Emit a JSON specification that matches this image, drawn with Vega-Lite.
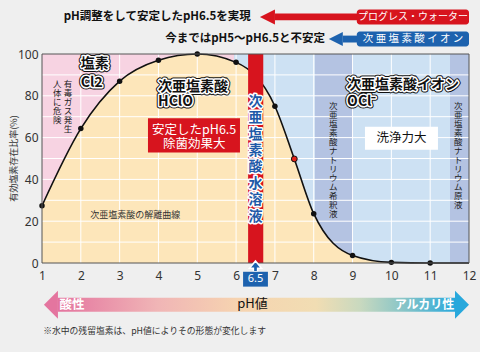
{
  "$schema": "https://vega.github.io/schema/vega-lite/v6.json",
  "width": 427,
  "height": 209,
  "autosize": {"type": "none"},
  "padding": {"left": 42, "top": 54, "right": 11, "bottom": 89},
  "background": "#efefef",
  "config": {
    "view": {"stroke": null, "fill": "#fde6ba"},
    "font": "Noto Sans CJK JP",
    "text": {"font": "Noto Sans CJK JP"}
  },
  "datasets": {
    "curve": [
      {"x": 1, "y": 27.4}, {"x": 2, "y": 64.3}, {"x": 3, "y": 87}, {"x": 4, "y": 97},
      {"x": 5, "y": 100}, {"x": 6, "y": 96}, {"x": 7, "y": 75}, {"x": 7.5, "y": 49.8},
      {"x": 8, "y": 23.6}, {"x": 9, "y": 3.6}, {"x": 10, "y": 0.3}, {"x": 11, "y": 0}, {"x": 12, "y": 0}
    ],
    "gx": [
      {"x": 2, "y": 0, "y2": 100}, {"x": 3, "y": 0, "y2": 100}, {"x": 4, "y": 0, "y2": 100},
      {"x": 5, "y": 0, "y2": 100}, {"x": 6, "y": 0, "y2": 100}, {"x": 7, "y": 0, "y2": 100},
      {"x": 8, "y": 0, "y2": 100}, {"x": 9, "y": 0, "y2": 100}, {"x": 10, "y": 0, "y2": 100},
      {"x": 11, "y": 0, "y2": 100}
    ],
    "gy": [
      {"y": 10, "x": 1, "x2": 12}, {"y": 20, "x": 1, "x2": 12}, {"y": 30, "x": 1, "x2": 12},
      {"y": 40, "x": 1, "x2": 12}, {"y": 50, "x": 1, "x2": 12}, {"y": 60, "x": 1, "x2": 12},
      {"y": 70, "x": 1, "x2": 12}, {"y": 80, "x": 1, "x2": 12}, {"y": 90, "x": 1, "x2": 12}
    ],
    "frame": [{"x": 1, "x2": 12, "y": 0, "y2": 100}],
    "bold": [
      {"x": 2.0, "y": 95.0, "t": "塩素"},
      {"x": 2.0, "y": 86.3, "t": "Cl2"},
      {"x": 3.99, "y": 84.4, "t": "次亜塩素酸"},
      {"x": 3.99, "y": 77.2, "t": "HClO"},
      {"x": 8.86, "y": 85.3, "t": "次亜塩素酸イオン"},
      {"x": 8.86, "y": 77.2, "t": "OCl⁻"}
    ],
    "vsmall": [
      {"x": 1.67, "y": 87.7, "t": "有\n毒\nガ\nス\n発\n生"},
      {"x": 1.39, "y": 87.7, "t": "人\n体\nに\n危\n険"},
      {"x": 8.5, "y": 76.8, "t": "次\n亜\n塩\n素\n酸\nナ\nト\nリ\nウ\nム\n希\n釈\n液"},
      {"x": 11.72, "y": 76.8, "t": "次\n亜\n塩\n素\n酸\nナ\nト\nリ\nウ\nム\n原\n液"}
    ],
    "vblue": [{"x": 6.5, "y": 80.5, "t": "次\n亜\n塩\n素\n酸\n水\n溶\n液"}],
    "redband": [{"x": 6.31, "x2": 6.7, "y": 0, "y2": 100}],
    "redbox": [{"x": 3.73, "x2": 6.1, "y": 69.2, "y2": 52.9}],
    "redboxtext": [{"x": 4.92, "y": 63.4, "t": "安定したpH6.5"}, {"x": 4.92, "y": 57.1, "t": "除菌効果大"}],
    "whitebox": [{"x": 9.32, "x2": 11.2, "y": 65.2, "y2": 54.2}],
    "whiteboxtext": [{"x": 10.26, "y": 59.7, "t": "洗浄力大"}],
    "caption": [{"x": 2.24, "y": 23.1, "t": "次亜塩素酸の解離曲線"}],
    "toptext": [
      {"x": 6.38, "y": 117.9, "t": "pH調整をして安定したpH6.5を実現"},
      {"x": 8.29, "y": 107.3, "t": "今まではpH5〜pH6.5と不安定"}
    ],
    "redshaft": [{"x": 7.0, "x2": 9.2, "y": 119.4, "y2": 116.1}],
    "redhead": [{"x": 7.0, "y": 117.7}],
    "redtop": [{"x": 9.11, "x2": 12.0, "y": 121.3, "y2": 114.1}],
    "redtoptext": [{"x": 10.56, "y": 117.7, "t": "プログレス・ウォーター"}],
    "blueshaft": [{"x": 8.75, "x2": 9.2, "y": 108.8, "y2": 105.5}],
    "bluehead": [{"x": 8.75, "y": 107.2}],
    "bluetop": [{"x": 9.11, "x2": 12.0, "y": 110.8, "y2": 103.6}],
    "bluetoptext": [{"x": 10.56, "y": 107.2, "t": "次 亜 塩 素 酸 イ オ ン"}],
    "mark65": [{"x": 6.5, "y": -2.5}],
    "box65": [{"x": 6.18, "x2": 6.82, "y": -4.2, "y2": -11.3}],
    "text65": [{"x": 6.5, "y": -7.8, "t": "6.5"}],
    "phshaft": [{"x": 1.41, "x2": 11.64, "y": -16.6, "y2": -23.3}],
    "phleft": [{"x": 1.41, "y": -20.0}],
    "phright": [{"x": 11.64, "y": -20.0}],
    "acid": [{"x": 1.45, "y": -20.0, "t": "酸性"}],
    "alk": [{"x": 11.62, "y": -20.0, "t": "アルカリ性"}],
    "phlabel": [{"x": 6.42, "y": -19.8, "t": "pH値"}],
    "note": [{"x": 1.03, "y": -32.4, "t": "※水中の残留塩素は、pH値によりその形態が変化します"}]
  },
  "encoding": {
    "x": {
      "field": "x", "type": "quantitative",
      "scale": {"domain": [1, 12], "nice": false, "zero": false},
      "axis": {
        "values": [1, 2, 3, 4, 5, 6, 7, 8, 9, 10, 11, 12],
        "grid": false, "ticks": false, "domain": false, "title": null,
        "labelFont": "Noto Sans", "labelFontSize": 12, "labelColor": "#333333",
        "labelPadding": 7, "labelFlush": false
      }
    },
    "y": {
      "field": "y", "type": "quantitative",
      "scale": {"domain": [0, 100], "nice": false},
      "axis": {
        "values": [0, 20, 40, 60, 80, 100],
        "grid": false, "ticks": false, "domain": false,
        "labelFont": "Noto Sans", "labelFontSize": 12, "labelColor": "#333333", "labelPadding": 4,
        "title": "有効塩素存在比率(%)", "titleFont": "Noto Sans CJK JP", "titleFontSize": 9,
        "titleFontWeight": "normal", "titleColor": "#333333",
        "titleX": -29, "titleY": 104, "titleAlign": "center", "titleBaseline": "middle", "titleAngle": -90
      }
    }
  },
  "layer": [
    {
      "data": {"name": "curve"},
      "mark": {"type": "area", "interpolate": "monotone", "opacity": 1, "fill": {"gradient": "linear", "x1": 0, "x2": 1, "y1": 0, "y2": 0, "stops": [
        {"offset": 0, "color": "#f7d3e2"},
        {"offset": 0.45, "color": "#f7d3e2"},
        {"offset": 0.45, "color": "#cde1f3"},
        {"offset": 0.639, "color": "#cde1f3"},
        {"offset": 0.639, "color": "#b4c3e2"},
        {"offset": 0.729, "color": "#b4c3e2"},
        {"offset": 0.729, "color": "#cde1f3"},
        {"offset": 0.956, "color": "#cde1f3"},
        {"offset": 0.956, "color": "#b4c3e2"},
        {"offset": 1, "color": "#b4c3e2"}
      ]}},
      "encoding": {"y2": {"datum": 100}}
    },
    {
      "data": {"name": "gx"},
      "mark": {"type": "rule", "color": "#ffffff", "strokeWidth": 1},
      "encoding": {"y2": {"field": "y2"}}
    },
    {
      "data": {"name": "gy"},
      "mark": {"type": "rule", "color": "#ffffff", "strokeWidth": 1},
      "encoding": {"x2": {"field": "x2"}}
    },
    {
      "data": {"name": "redbox"},
      "mark": {"type": "rect", "color": "#d7141e"},
      "encoding": {"x2": {"field": "x2"}, "y2": {"field": "y2"}}
    },
    {
      "data": {"name": "redboxtext"},
      "mark": {"type": "text", "color": "#ffffff", "fontSize": 12.5, "align": "center", "baseline": "middle"},
      "encoding": {"text": {"field": "t"}}
    },
    {
      "data": {"name": "whitebox"},
      "mark": {"type": "rect", "color": "#ffffff"},
      "encoding": {"x2": {"field": "x2"}, "y2": {"field": "y2"}}
    },
    {
      "data": {"name": "whiteboxtext"},
      "mark": {"type": "text", "color": "#111111", "fontSize": 12.5, "align": "center", "baseline": "middle"},
      "encoding": {"text": {"field": "t"}}
    },
    {
      "data": {"name": "curve"},
      "mark": {"type": "line", "interpolate": "monotone", "color": "#111111", "strokeWidth": 1.6}
    },
    {
      "data": {"name": "curve"},
      "transform": [{"filter": "datum.x <= 11 && datum.x != 7.5"}],
      "mark": {"type": "circle", "size": 30, "color": "#111111", "opacity": 1}
    },
    {
      "data": {"name": "curve"},
      "transform": [{"filter": "datum.x == 7.5"}],
      "mark": {"type": "point", "size": 34, "filled": true, "fill": "#e2231a", "stroke": "#111111", "strokeWidth": 1, "opacity": 1}
    },
    {
      "data": {"name": "redband"},
      "mark": {"type": "rect", "color": "#d7141e"},
      "encoding": {"x2": {"field": "x2"}, "y2": {"field": "y2"}}
    },
    {
      "data": {"name": "frame"},
      "mark": {"type": "rect", "fill": null, "filled": false, "stroke": "#555555", "strokeWidth": 1},
      "encoding": {"x2": {"field": "x2"}, "y2": {"field": "y2"}}
    },
    {
      "data": {"name": "vblue"},
      "mark": {"type": "text", "fontSize": 14, "fontWeight": "bold", "align": "center", "baseline": "top", "lineBreak": "\n", "lineHeight": 16.4, "fill": "#1f5aa8", "stroke": "#ffffff", "strokeWidth": 3, "strokeJoin": "round"},
      "encoding": {"text": {"field": "t"}}
    },
    {
      "data": {"name": "vblue"},
      "mark": {"type": "text", "fontSize": 14, "fontWeight": "bold", "align": "center", "baseline": "top", "lineBreak": "\n", "lineHeight": 16.4, "fill": "#1f5aa8"},
      "encoding": {"text": {"field": "t"}}
    },
    {
      "data": {"name": "bold"},
      "mark": {"type": "text", "fontSize": 14, "fontWeight": "bold", "align": "left", "baseline": "middle", "fill": "#111111", "stroke": "#111111", "strokeWidth": 5, "strokeJoin": "round"},
      "encoding": {"text": {"field": "t"}}
    },
    {
      "data": {"name": "bold"},
      "mark": {"type": "text", "fontSize": 14, "fontWeight": "bold", "align": "left", "baseline": "middle", "fill": "#111111", "stroke": "#ffffff", "strokeWidth": 3, "strokeJoin": "round"},
      "encoding": {"text": {"field": "t"}}
    },
    {
      "data": {"name": "bold"},
      "mark": {"type": "text", "fontSize": 14, "fontWeight": "bold", "align": "left", "baseline": "middle", "fill": "#111111"},
      "encoding": {"text": {"field": "t"}}
    },
    {
      "data": {"name": "vsmall"},
      "mark": {"type": "text", "fontSize": 8.5, "align": "center", "baseline": "top", "lineBreak": "\n", "lineHeight": 9, "color": "#222222"},
      "encoding": {"text": {"field": "t"}}
    },
    {
      "data": {"name": "caption"},
      "mark": {"type": "text", "fontSize": 9, "align": "left", "baseline": "middle", "color": "#333333"},
      "encoding": {"text": {"field": "t"}}
    },
    {
      "data": {"name": "toptext"},
      "mark": {"type": "text", "fontSize": 11.5, "fontWeight": "bold", "align": "right", "baseline": "middle", "color": "#111111"},
      "encoding": {"text": {"field": "t"}}
    },
    {
      "data": {"name": "redshaft"},
      "mark": {"type": "rect", "color": "#d7141e"},
      "encoding": {"x2": {"field": "x2"}, "y2": {"field": "y2"}}
    },
    {
      "data": {"name": "redhead"},
      "mark": {"type": "point", "shape": "M-2,0L0,-1L0,1Z", "size": 225, "filled": true, "color": "#d7141e", "opacity": 1}
    },
    {
      "data": {"name": "redtop"},
      "mark": {"type": "rect", "color": "#d7141e", "cornerRadius": 3},
      "encoding": {"x2": {"field": "x2"}, "y2": {"field": "y2"}}
    },
    {
      "data": {"name": "redtoptext"},
      "mark": {"type": "text", "fontSize": 10, "align": "center", "baseline": "middle", "color": "#ffffff"},
      "encoding": {"text": {"field": "t"}}
    },
    {
      "data": {"name": "blueshaft"},
      "mark": {"type": "rect", "color": "#1d62ae"},
      "encoding": {"x2": {"field": "x2"}, "y2": {"field": "y2"}}
    },
    {
      "data": {"name": "bluehead"},
      "mark": {"type": "point", "shape": "M-2,0L0,-1L0,1Z", "size": 196, "filled": true, "color": "#1d62ae", "opacity": 1}
    },
    {
      "data": {"name": "bluetop"},
      "mark": {"type": "rect", "color": "#1d62ae", "cornerRadius": 3},
      "encoding": {"x2": {"field": "x2"}, "y2": {"field": "y2"}}
    },
    {
      "data": {"name": "bluetoptext"},
      "mark": {"type": "text", "fontSize": 10.5, "align": "center", "baseline": "middle", "color": "#ffffff"},
      "encoding": {"text": {"field": "t"}}
    },
    {
      "data": {"name": "mark65"},
      "mark": {"type": "point", "shape": "M0,-1.2L1,0L0.35,0L0.35,0.6L-0.35,0.6L-0.35,0L-1,0Z", "size": 144, "filled": true, "fill": "#1d62ae", "stroke": "#ffffff", "strokeWidth": 1.5, "opacity": 1}
    },
    {
      "data": {"name": "box65"},
      "mark": {"type": "rect", "color": "#1d62ae"},
      "encoding": {"x2": {"field": "x2"}, "y2": {"field": "y2"}}
    },
    {
      "data": {"name": "text65"},
      "mark": {"type": "text", "font": "Noto Sans", "fontSize": 11, "align": "center", "baseline": "middle", "color": "#ffffff"},
      "encoding": {"text": {"field": "t"}}
    },
    {
      "data": {"name": "phshaft"},
      "mark": {"type": "rect", "color": {"gradient": "linear", "x1": 0, "x2": 1, "y1": 0, "y2": 0, "stops": [
        {"offset": 0, "color": "#e4759f"},
        {"offset": 0.25, "color": "#f0b5b6"},
        {"offset": 0.45, "color": "#f6d3b0"},
        {"offset": 0.65, "color": "#f1ddb3"},
        {"offset": 0.76, "color": "#c9d9bf"},
        {"offset": 0.88, "color": "#82c3c8"},
        {"offset": 1, "color": "#28a8dc"}
      ]}},
      "encoding": {"x2": {"field": "x2"}, "y2": {"field": "y2"}}
    },
    {
      "data": {"name": "phleft"},
      "mark": {"type": "point", "shape": "M-1,0L0,-1L0,1Z", "size": 784, "filled": true, "color": "#e4759f", "opacity": 1}
    },
    {
      "data": {"name": "phright"},
      "mark": {"type": "point", "shape": "M1,0L0,-1L0,1Z", "size": 784, "filled": true, "color": "#28a8dc", "opacity": 1}
    },
    {
      "data": {"name": "acid"},
      "mark": {"type": "text", "fontSize": 12.5, "fontWeight": "bold", "align": "left", "baseline": "middle", "color": "#ffffff"},
      "encoding": {"text": {"field": "t"}}
    },
    {
      "data": {"name": "alk"},
      "mark": {"type": "text", "fontSize": 12, "fontWeight": "bold", "align": "right", "baseline": "middle", "color": "#ffffff"},
      "encoding": {"text": {"field": "t"}}
    },
    {
      "data": {"name": "phlabel"},
      "mark": {"type": "text", "fontSize": 13, "align": "center", "baseline": "middle", "color": "#111111"},
      "encoding": {"text": {"field": "t"}}
    },
    {
      "data": {"name": "note"},
      "mark": {"type": "text", "fontSize": 8.8, "align": "left", "baseline": "middle", "color": "#333333"},
      "encoding": {"text": {"field": "t"}}
    }
  ]
}
